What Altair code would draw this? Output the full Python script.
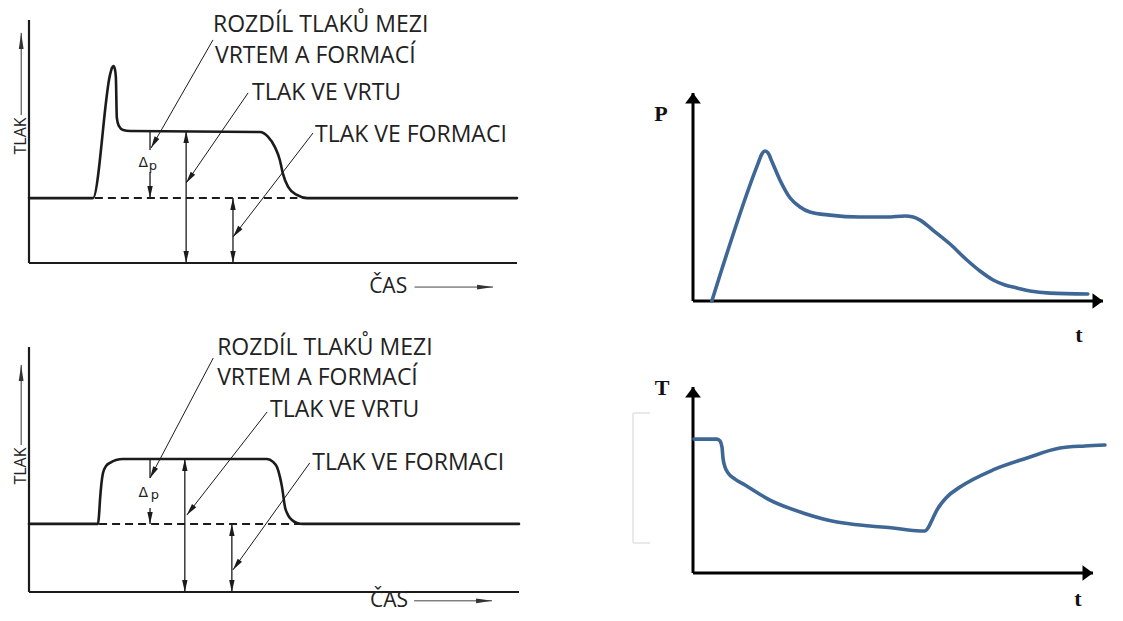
import math
import altair as alt
import pandas as pd

# ---------------- data (panel units: time 0-100 along the time axis, value 0-100 up the value axis) ----
# Top-left schematic: pressure in the well with an initial surge
tl_time = [0, 13.1, 16.6, 17.0, 17.3, 17.6, 17.8, 18.0, 18.4, 19.3, 20.7, 47.3, 49.0, 50.4, 51.4, 52.0, 53.1, 54.9, 57.0, 100]
tl_press = [26.7, 26.7, 77.4, 80.3, 81.1, 79.8, 76.5, 59.7, 56.4, 54.7, 54.3, 53.9, 51.9, 47.7, 42.4, 37.0, 31.3, 28.0, 26.7, 26.7]

# Bottom-left schematic: pressure in the well, rectangular pulse
bl_time = [0, 14.08, 14.29, 14.49, 15.10, 15.71, 16.53, 17.76, 19.18, 48.57, 49.80, 50.61, 51.22, 51.63, 52.24, 52.86, 53.67, 54.69, 55.92, 100]
bl_press = [27.8, 27.8, 31.4, 37.6, 48.6, 51.4, 52.7, 53.9, 54.3, 54.3, 53.1, 51.0, 46.9, 42.9, 34.7, 31.4, 29.4, 28.2, 27.8, 27.8]

# Right-top: P(t)
p_time = [4.6, 15.9, 16.8, 17.6, 18.3, 19.3, 21.2, 23.7, 26.1, 28.5, 33.4, 40.7, 47.3, 51.7, 53.7, 55.4, 58.5, 62.7, 66.8, 70.0, 73.2, 76.1, 79.0, 82.2, 87.1, 96.3]
p_value = [0, 66.3, 70.7, 72.1, 71.2, 66.8, 58.2, 49.5, 45.2, 42.8, 41.3, 40.4, 40.4, 40.9, 40.4, 38.9, 34.1, 27.4, 19.7, 14.4, 10.1, 7.7, 6.3, 4.8, 3.8, 3.4]

# Right-bottom: T(t)
t_time = [0.25, 6.0, 6.75, 7.25, 7.5, 8.0, 8.75, 10.5, 13.0, 19.25, 27.5, 36.0, 44.25, 50.0, 56.75, 58.0, 58.75, 60.0, 61.0, 63.5, 66.75, 75.0, 83.5, 91.75, 98.0, 103.0]
t_value = [72.0, 72.0, 71.0, 67.7, 61.8, 57.0, 53.8, 50.5, 47.3, 39.2, 32.3, 27.4, 25.3, 24.2, 22.6, 22.6, 24.2, 29.6, 33.9, 40.9, 46.2, 55.4, 61.8, 67.2, 68.3, 68.8]

# Annotation texts
annot_labels = ["ROZDÍL TLAKŮ MEZI", "VRTEM A FORMACÍ", "TLAK VE VRTU", "TLAK VE FORMACI"]
tl_annot_time = [37.7, 38.1, 45.7, 58.6]
tl_annot_press = [95.1, 82.3, 67.1, 49.8]
bl_annot_time = [38.4, 38.4, 49.2, 57.8]
bl_annot_press = [96.7, 84.5, 71.4, 49.8]

# Leader lines (start time, start value, end time, end value)
tl_leaders = [(37.7, 91.8, 25.0, 47.3), (44.9, 70.0, 32.2, 32.9), (58.2, 53.5, 41.8, 10.7)]
bl_leaders = [(37.6, 95.5, 24.7, 46.5), (48.6, 73.5, 32.2, 31.4), (57.3, 52.7, 41.6, 9.0)]

# Formation pressure level, well plateau level, dimension positions
tl_formation, tl_well = 26.7, 54.3
bl_formation, bl_well = 27.8, 54.3
tl_dim_time = {"dp": 24.8, "well": 32.2, "form": 41.8}
bl_dim_time = {"dp": 24.7, "well": 31.8, "form": 41.4}
tl_dp_gap = (46.5, 37.4)
bl_dp_gap = (46.5, 34.3)
tl_dash = (13.5, 55.0)
bl_dash = (14.3, 56.0)

axis_time_label = "ČAS"
axis_press_label = "TLAK"

# ---------------- layout (page pixels of each panel's axis box) ----------------
OX, OY = 8, 8
PANELS = {
    "tl": (29, 517, 263, 20),
    "bl": (29, 519, 592, 347),
    "p": (693, 1103, 301, 93),
    "t": (693, 1093, 573, 387),
}

INK = "#1b1b1b"
BLUE = "#3f6796"
THIN_HEAD = "M0,0L0.45,2L-0.45,2Z"
LONG_HEAD = "M0,0L0.3,2L-0.3,2Z"
BOLD_HEAD = "M0,0L1.5,2L-1.5,2Z"


def xs(p):
    x0, x1, yb, yt = PANELS[p]
    return alt.Scale(domain=[0, 100], range=[x0 - OX, x1 - OX], nice=False, zero=False)


def ys(p):
    x0, x1, yb, yt = PANELS[p]
    return alt.Scale(domain=[0, 100], range=[yb - OY, yt - OY], nice=False, zero=False)


def screen_angle(p, u1, v1, u2, v2):
    x0, x1, yb, yt = PANELS[p]
    kx = (x1 - x0) / 100.0
    ky = (yb - yt) / 100.0
    dx = (u2 - u1) * kx
    dy = -(v2 - v1) * ky
    return math.degrees(math.atan2(dx, -dy)) % 360


def curve(p, t, v, color, width, dash=None, interp="monotone"):
    df = pd.DataFrame({"u": t, "v": v, "i": list(range(len(t)))})
    kw = dict(color=color, strokeWidth=width, interpolate=interp, strokeCap="round", strokeJoin="round")
    if dash:
        kw["strokeDash"] = dash
        kw["strokeCap"] = "butt"
    return alt.Chart(df).mark_line(**kw).encode(
        x=alt.X("u:Q", scale=xs(p), axis=None),
        y=alt.Y("v:Q", scale=ys(p), axis=None),
        order=alt.Order("i:Q"),
    )


def segs(p, rows, color, width, dash=None):
    df = pd.DataFrame(rows, columns=["u", "v", "u2", "v2"])
    kw = dict(color=color, strokeWidth=width)
    if dash:
        kw["strokeDash"] = dash
    return alt.Chart(df).mark_rule(**kw).encode(
        x=alt.X("u:Q", scale=xs(p), axis=None),
        y=alt.Y("v:Q", scale=ys(p), axis=None),
        x2="u2:Q",
        y2="v2:Q",
    )


def heads(p, rows, shape, size, color):
    df = pd.DataFrame(rows, columns=["u", "v", "ang"])
    return alt.Chart(df).mark_point(shape=shape, filled=True, size=size, color=color, opacity=1, strokeWidth=0).encode(
        x=alt.X("u:Q", scale=xs(p), axis=None),
        y=alt.Y("v:Q", scale=ys(p), axis=None),
        angle=alt.Angle("ang:Q", scale=None),
    )


def texts(p, rows, **style):
    df = pd.DataFrame(rows, columns=["u", "v", "label"])
    return alt.Chart(df).mark_text(**style).encode(
        x=alt.X("u:Q", scale=xs(p), axis=None),
        y=alt.Y("v:Q", scale=ys(p), axis=None),
        text="label:N",
    )


def left_panel(p, t, v, labels_t, labels_v, leaders, formation, well, dim, dp_gap, dash, tlak_pos, cas_pos, delta_pos):
    layers = []
    # axes box (y axis and bottom line)
    layers.append(segs(p, [(0, 0, 0, 100), (0, 0, 100, 0)], INK, 2.2))
    # dashed formation level under the pulse
    layers.append(segs(p, [(dash[0], formation, dash[1], formation)], INK, 2.0, dash=[8, 5]))
    # pressure curve
    layers.append(curve(p, t, v, INK, 2.6))
    # dimension lines
    layers.append(segs(p, [
        (dim["dp"], well, dim["dp"], dp_gap[0]),
        (dim["dp"], dp_gap[1], dim["dp"], formation),
        (dim["well"], 0, dim["well"], well),
        (dim["form"], 0, dim["form"], formation),
    ], INK, 1.3))
    layers.append(heads(p, [
        (dim["dp"], formation, 180),
        (dim["well"], well, 0), (dim["well"], 0, 180),
        (dim["form"], formation, 0), (dim["form"], 0, 180),
    ], THIN_HEAD, 144, INK))
    # leader lines with arrowheads
    layers.append(segs(p, leaders, INK, 1.0))
    layers.append(heads(p, [(l[2], l[3], screen_angle(p, *l)) for l in leaders], THIN_HEAD, 144, INK))
    # annotation labels
    layers.append(texts(p, list(zip(labels_t, labels_v, annot_labels)), font="Open Sans", fontSize=23,
                        align="left", baseline="alphabetic", color="#222222"))
    # delta p
    layers.append(texts(p, [(delta_pos[0], delta_pos[1], "Δ")], font="DejaVu Sans", fontSize=14,
                        align="center", baseline="middle", color="#222222"))
    layers.append(texts(p, [(delta_pos[2], delta_pos[3], "p")], font="DejaVu Sans", fontSize=13,
                        align="center", baseline="middle", color="#222222"))
    # axis captions with arrows
    tu, tv, tl0, tl1 = tlak_pos
    layers.append(texts(p, [(tu, tv, axis_press_label)], font="Open Sans", fontSize=16, angle=270,
                        align="center", baseline="middle", color="#222222"))
    layers.append(segs(p, [(tu, tl0, tu, tl1)], "#333333", 1.0))
    layers.append(heads(p, [(tu, tl1, 0)], LONG_HEAD, 256, "#333333"))
    cu, cv, ca0, ca1 = cas_pos
    layers.append(texts(p, [(cu, cv, axis_time_label)], font="Open Sans", fontSize=21,
                        align="left", baseline="middle", color="#222222"))
    layers.append(segs(p, [(ca0, cv, ca1, cv)], "#444444", 1.0))
    layers.append(heads(p, [(ca1, cv, 90)], LONG_HEAD, 256, "#333333"))
    return layers


def right_panel(p, t, v, ylabel, ypos, tpos):
    layers = []
    layers.append(segs(p, [(0, 0, 0, 100), (0, 0, 100, 0)], "#000000", 3.0))
    layers.append(heads(p, [(0, 100, 0), (100, 0, 90)], BOLD_HEAD, 110, "#000000"))
    layers.append(curve(p, t, v, BLUE, 3.6))
    layers.append(texts(p, [(ypos[0], ypos[1], ylabel), (tpos[0], tpos[1], "t")],
                        font="Liberation Serif", fontSize=22, fontWeight="bold",
                        align="center", baseline="middle", color="#111111"))
    return layers


layers = []
layers += left_panel("tl", tl_time, tl_press, tl_annot_time, tl_annot_press, tl_leaders,
                     tl_formation, tl_well, tl_dim_time, tl_dp_gap, tl_dash,
                     (-1.6, 52.3, 60.9, 94.7), (69.7, -9.9, 79.0, 95.1), (23.4, 41.2, 25.4, 39.9))
layers += left_panel("bl", bl_time, bl_press, bl_annot_time, bl_annot_press, bl_leaders,
                     bl_formation, bl_well, bl_dim_time, bl_dp_gap, bl_dash,
                     (-1.6, 51.4, 60.0, 92.7), (69.6, -3.6, 78.6, 94.5), (23.3, 40.4, 25.7, 39.6))
layers += right_panel("p", p_time, p_value, "P", (-7.8, 89.9), (94.1, -16.3))
# faint scan bracket on the temperature panel
layers.append(segs("t", [(-15, 16.1, -15, 86.0), (-15, 86.0, -10.75, 86.0), (-15, 16.1, -10.75, 16.1)], "#e9e9e9", 2.0))
layers += right_panel("t", t_time, t_value, "T", (-7.75, 99.5), (96.25, -14.0))

chart = alt.layer(*layers).resolve_scale(x="independent", y="independent").properties(
    width=1107, height=605, padding=0,
    autosize=alt.AutoSizeParams(type="none"),
    background="white",
).configure_view(stroke=None)

chart.save("out.html", embed_options={"renderer": "svg", "actions": False})
